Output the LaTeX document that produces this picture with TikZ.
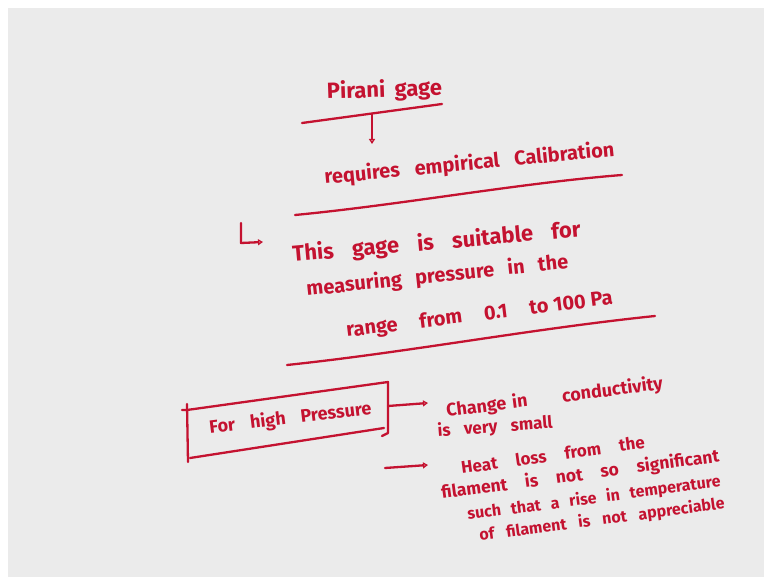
\documentclass[tikz,border=0pt]{standalone}
\usepackage{fontspec}
\setmainfont{Fira Sans}
\usetikzlibrary{arrows.meta}
\definecolor{ink}{RGB}{196,18,48}
\definecolor{paper}{RGB}{235,235,235}
% \handline{name}{x}{y}{angle}{width}{size}{text}
\newcommand\handline[7]{\node[hand, rotate=#4, font=\fontsize{#6}{#6}\selectfont\bfseries] (#1) at (#2,#3) {\makebox[#5pt][s]{#7}};}
\begin{document}
\begin{tikzpicture}[x=1pt,y=-1pt,
  inkline/.style={draw=ink, line width=2.3pt, line cap=round, line join=round},
  hand/.style={text=ink, inner sep=0pt, anchor=base west},
  tipend/.style={-{Triangle[open,length=5pt,width=6pt,line width=1.5pt]}}
]
\useasboundingbox (0,0) rectangle (764,577);
\fill[white] (0,0) rectangle (764,577);
\fill[paper] (8,8) rectangle (764,577);

% ---- texts ----
\handline{t1}{327}{99}{2}{115}{22}{Pirani gage}
\handline{t2}{325}{184}{5.5}{291}{20}{requires empirical Calibration}
\handline{t3}{293}{262}{5}{289}{22}{This gage is suitable for}
\handline{t4}{307}{296}{6}{263}{20}{measuring pressure in the}
\handline{t5}{347}{337}{7}{268}{20}{range from 0.1 to\hspace{5pt}100\hspace{5pt}Pa}
\handline{t6}{210}{434}{7}{163}{18}{For high Pressure}
\handline{t7}{447}{417}{7.3}{218}{18}{Change\hspace{6pt}in conductivity}
\handline{t8}{438}{437}{4.5}{115}{17}{is very small}
\handline{t9}{462}{474}{8}{185}{17}{Heat loss from the}
\handline{t10}{442}{499}{7.6}{280}{17.5}{filament is not so significant}
\handline{t11}{468}{520}{7.5}{255}{16}{such that a rise in temperature}
\handline{t12}{480}{541}{7.5}{247}{16}{of filament is not appreciable}

% ---- coordinates ----
\coordinate (u1a) at (302,123);
\coordinate (u1b) at (442,104);
\coordinate (a1s) at (372,114);
\coordinate (a1e) at (372,144);
\coordinate (u2a) at (295,215);
\coordinate (u2b) at (622,175);
\coordinate (hk1) at (241,223);
\coordinate (hk2) at (241,243);
\coordinate (hk3) at (263,242);
\coordinate (u3a) at (287,365);
\coordinate (u3b) at (655,316);
\coordinate (bxa) at (182,410);
\coordinate (bxb) at (187,410);
\coordinate (bxc) at (388,382);
\coordinate (bxd) at (388,433);
\coordinate (bxe) at (382,436);
\coordinate (bxf) at (187,404);
\coordinate (bxg) at (188,462);
\coordinate (bxh) at (190,458);
\coordinate (bxi) at (384,428);
\coordinate (ar1s) at (388,406);
\coordinate (ar1e) at (428,403);
\coordinate (ar2s) at (385,468);
\coordinate (ar2e) at (428,465);

% ---- strokes ----
\draw[inkline] (u1a) -- (u1b);
\draw[inkline, tipend] (a1s) -- (a1e);
\draw[inkline] (u2a) .. controls (400,205) and (520,183) .. (u2b);
\draw[inkline, tipend] (hk1) -- (hk2) -- (hk3);
\draw[inkline] (u3a) .. controls (410,352) and (530,329) .. (u3b);
\draw[inkline] (bxf) -- (bxg);
\draw[inkline] (bxa) -- (bxb) -- (bxc) -- (bxd) -- (bxe);
\draw[inkline] (bxh) -- (bxi);
\draw[inkline, tipend] (ar1s) -- (ar1e);
\draw[inkline, tipend] (ar2s) -- (ar2e);
\end{tikzpicture}
\end{document}
